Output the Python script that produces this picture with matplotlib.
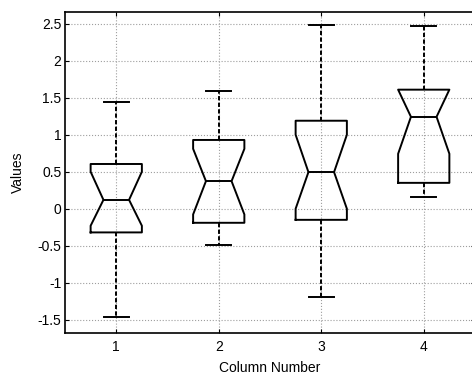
import matplotlib
matplotlib.use('Agg')
import matplotlib.pyplot as plt
from matplotlib.ticker import FuncFormatter

plt.rcParams['font.family'] = ['Liberation Sans', 'DejaVu Sans']
plt.rcParams['axes.unicode_minus'] = False

# box statistics
columns = [1, 2, 3, 4]
medians = [0.12, 0.373, 0.495, 1.243]
q1 = [-0.32, -0.19, -0.15, 0.35]
q3 = [0.605, 0.93, 1.19, 1.61]
notch_lo = [-0.23, -0.077, 0.0, 0.743]
notch_hi = [0.50, 0.81, 1.0, 1.61]
whisk_lo = [-1.47, -0.496, -1.2, 0.155]
whisk_hi = [1.44, 1.59, 2.485, 2.47]
yticks = [-1.5, -1, -0.5, 0, 0.5, 1, 1.5, 2, 2.5]

stats = []
for i in range(len(columns)):
    stats.append(dict(med=medians[i], q1=q1[i], q3=q3[i],
                      cilo=notch_lo[i], cihi=notch_hi[i],
                      whislo=whisk_lo[i], whishi=whisk_hi[i], fliers=[]))

fig = plt.figure(figsize=(4.72, 3.74), dpi=100)
ax = fig.add_axes([65 / 472, 41 / 374, 410 / 472, 321 / 374])

lw = 1.4
ax.bxp(stats, positions=columns, widths=0.5, shownotches=True,
       capwidths=0.24,
       boxprops=dict(color='black', linewidth=lw),
       medianprops=dict(color='black', linewidth=lw),
       whiskerprops=dict(color='black', linewidth=lw, linestyle=(0, (2.2, 1.2))),
       capprops=dict(color='black', linewidth=lw),
       zorder=3)

ax.set_xlim(0.5, 4.5)
ax.set_ylim(-1.68, 2.66)
ax.set_xticks(columns)
ax.set_xticklabels([str(c) for c in columns])
ax.set_yticks(yticks)
ax.yaxis.set_major_formatter(FuncFormatter(lambda v, p: '%g' % v))

ax.grid(True, color='0.62', linestyle=':', linewidth=0.8, zorder=0)
ax.set_axisbelow(True)
ax.tick_params(direction='in', length=3, width=0.8, top=True, right=True,
               labelsize=10)
ax.tick_params(axis='x', pad=5)
ax.tick_params(axis='y', pad=2.5)
for s in ax.spines.values():
    s.set_linewidth(1.2)

ax.set_xlabel('Column Number', fontsize=10, labelpad=5)
ax.set_ylabel('Values', fontsize=10, labelpad=9)

fig.savefig('out.png', dpi=100)
